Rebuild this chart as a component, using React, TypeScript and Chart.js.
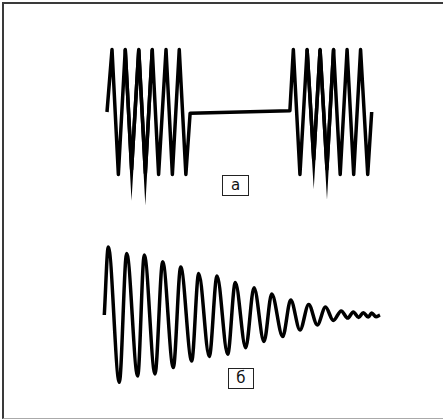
import React, { useEffect, useRef } from "react";
import { Chart, registerables } from "chart.js";

Chart.register(...registerables);

// ---- Signal "а": two tone bursts separated by a pause (time in ms, relative amplitude)
const burstTimes = [
  0, 1.9, 4.3, 6.9, 9.3, 12.0, 14.5, 17.1, 19.5, 22.3, 24.7, 27.3, 29.8,
  31.4, 69.1,
  70.4, 72.9, 75.6, 78.1, 80.5, 83.1, 85.6, 88.1, 90.7, 93.2, 95.8, 98.5, 100,
];
const burstValues = [
  0, 1, -1, 1, -0.92, 1, -0.98, 1, -1, 1, -1, 1, -1,
  -0.02, 0.02,
  1, -1, 1, -0.76, 1, -0.91, 1, -1, 1, -1, 1, -1, 0,
];
// troughs where the polyline shows a sharp (mitred) vertex
const sharpTroughIndex = [4, 6, 18, 20];

// ---- Signal "б": damped oscillation (time in ms, relative amplitude)
const dampedTimes = [
  0, 1.45, 5.44, 8.12, 12.11, 14.51, 18.39, 21.18, 25.03, 27.71, 31.7, 34.24,
  38.08, 40.88, 44.76, 47.52, 51.29, 54.3, 57.93, 60.72, 64.71, 67.61, 70.98,
  74.14, 77.26, 80.23, 83.06, 85.93, 88.28, 90.32, 92.27, 93.94, 95.72, 96.99,
  98.55, 100,
];
const dampedValues = [
  0, 1.0, -0.99, 0.905, -0.896, 0.882, -0.867, 0.783, -0.773, 0.705, -0.676,
  0.611, -0.611, 0.573, -0.577, 0.479, -0.482, 0.401, -0.39, 0.308, -0.317,
  0.22, -0.22, 0.154, -0.146, 0.117, -0.08, 0.06, -0.045, 0.045, -0.035, 0.035,
  -0.03, 0.03, -0.025, 0,
];

const labelA = "а";
const labelB = "б";

const miterPlugin = {
  id: "miterLimit",
  beforeDatasetsDraw(chart: any) {
    chart.ctx.miterLimit = 60;
  },
};

function baseOptions(xMin: number, xMax: number, yMin: number, yMax: number): any {
  return {
    responsive: false,
    animation: false,
    devicePixelRatio: 1,
    layout: { padding: 0 },
    plugins: { legend: { display: false }, tooltip: { enabled: false } },
    events: [],
    scales: {
      x: { type: "linear", min: xMin, max: xMax, display: false },
      y: { type: "linear", min: yMin, max: yMax, display: false },
    },
    elements: { point: { radius: 0 } },
  };
}

function BurstChart() {
  const ref = useRef<HTMLCanvasElement | null>(null);
  useEffect(() => {
    if (!ref.current) return;
    const main = burstTimes.map((t, i) => ({ x: t, y: burstValues[i] }));
    const spikes: { x: number; y: number | null }[] = [];
    sharpTroughIndex.forEach((idx) => {
      for (let k = idx - 1; k <= idx + 1; k++) {
        spikes.push({ x: burstTimes[k], y: burstValues[k] });
      }
      spikes.push({ x: burstTimes[idx + 1], y: null });
    });
    const chart = new Chart(ref.current, {
      type: "line",
      data: {
        datasets: [
          {
            data: main,
            borderColor: "#000",
            borderWidth: 3.5,
            borderJoinStyle: "round",
            borderCapStyle: "butt",
            tension: 0,
            fill: false,
          },
          {
            data: spikes as any,
            borderColor: "#000",
            borderWidth: 3.5,
            borderJoinStyle: "miter",
            borderCapStyle: "butt",
            tension: 0,
            spanGaps: false,
            fill: false,
          },
        ],
      },
      options: baseOptions(-40.42, 126.94, -1.568, 1.792),
      plugins: [miterPlugin],
    });
    return () => chart.destroy();
  }, []);
  return (
    <canvas
      ref={ref}
      width={443}
      height={210}
      style={{ position: "absolute", left: 0, top: 0, width: 443, height: 210 }}
    />
  );
}

function DampedChart() {
  const ref = useRef<HTMLCanvasElement | null>(null);
  useEffect(() => {
    if (!ref.current) return;
    const pts = dampedTimes.map((t, i) => ({ x: t, y: dampedValues[i] }));
    const chart = new Chart(ref.current, {
      type: "line",
      data: {
        datasets: [
          {
            data: pts,
            borderColor: "#000",
            borderWidth: 3.5,
            borderJoinStyle: "round",
            borderCapStyle: "butt",
            cubicInterpolationMode: "monotone",
            fill: false,
          },
        ],
      },
      options: baseOptions(-37.83, 122.85, -1.529, 1.544),
    });
    return () => chart.destroy();
  }, []);
  return (
    <canvas
      ref={ref}
      width={443}
      height={209}
      style={{ position: "absolute", left: 0, top: 210, width: 443, height: 209 }}
    />
  );
}

const labelStyle: React.CSSProperties = {
  position: "absolute",
  boxSizing: "border-box",
  border: "1px solid #222",
  background: "#fff",
  display: "flex",
  alignItems: "center",
  justifyContent: "center",
  fontFamily: "'DejaVu Sans', 'Noto Sans', sans-serif",
  fontSize: 15,
  color: "#111",
  lineHeight: 1,
};

export default function App() {
  return (
    <div
      style={{
        position: "absolute",
        left: 0,
        top: 0,
        width: 443,
        height: 419,
        background: "#fff",
        overflow: "hidden",
      }}
    >
      <div
        style={{
          position: "absolute",
          left: 2,
          top: 2,
          width: 460,
          height: 414,
          borderLeft: "2px solid #3a3a3a",
          borderTop: "2px solid #3a3a3a",
          borderBottom: "1px solid #aaa",
        }}
      />
      <BurstChart />
      <DampedChart />
      <div style={{ ...labelStyle, left: 222, top: 175, width: 27, height: 21 }}>
        {labelA}
      </div>
      <div style={{ ...labelStyle, left: 228, top: 368, width: 26, height: 21 }}>
        {labelB}
      </div>
    </div>
  );
}
